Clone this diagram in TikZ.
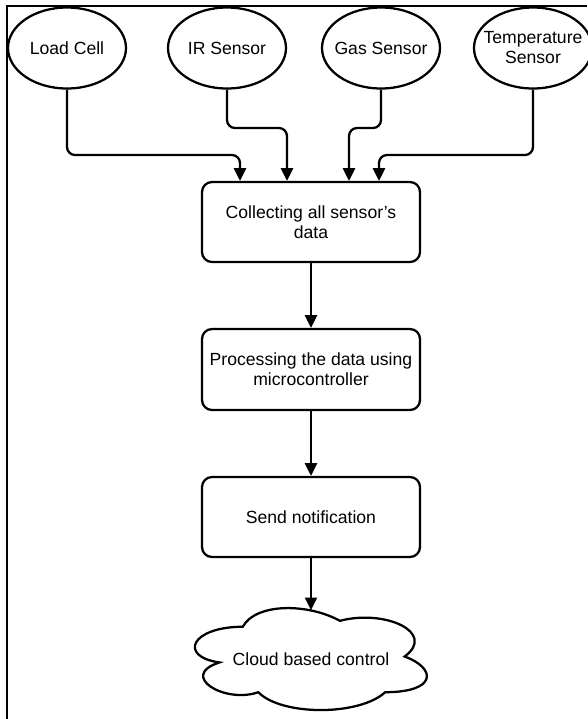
\documentclass[tikz,border=0pt]{standalone}
\usepackage{fontspec}
\setmainfont{Liberation Sans}
\usetikzlibrary{arrows.meta,shapes.geometric}
\begin{document}
\begin{tikzpicture}[x=0.75pt,y=-0.75pt,
  every node/.style={font=\fontsize{13.2}{15}\selectfont},
  sensor/.style={draw,ellipse,line width=1.7pt,minimum width=88.5pt,minimum height=60.75pt,inner sep=0pt},
  stepbox/.style={draw,rounded corners=7.5pt,line width=1.7pt,minimum width=163.5pt,minimum height=60pt,align=center,inner sep=2pt},
  arr/.style={line width=1.7pt,-{Triangle[width=9pt,length=9.5pt]},rounded corners=6pt},
]
\useasboundingbox (0,0) rectangle (587,719);
\draw[line width=1.8pt] (7,719) -- (7,6) -- (587,6);

% sensors
\node[sensor,label={[align=center]center:Load Cell}] (load) at (67,48) {};
\node[sensor,label={[align=center]center:IR Sensor}] (ir) at (227,48) {};
\node[sensor,label={[align=center]center:Gas Sensor}] (gas) at (381,48) {};
\node[sensor,label={[align=center]center:Temperature\\Sensor}] (temp) at (533,48) {};

% process boxes
\node[stepbox] (coll) at (311,222) {Collecting all sensor's\\data};
\node[stepbox,minimum height=60.75pt] (proc) at (311,369.5) {Processing the data using\\microcontroller};
\node[stepbox] (send) at (311,517) {Send notification};

% cloud
\node[minimum width=174pt,minimum height=72.75pt,inner sep=0pt] (cloud) at (311,659) {Cloud based control};
\draw[line width=1.7pt] (242.75,626.75)
  .. controls (190.95,626.75) and (178,656.5) .. (219.44,662.45)
  .. controls (178,675.54) and (224.62,704.1) .. (258.29,692.2)
  .. controls (281.6,716) and (359.3,716) .. (385.2,692.2)
  .. controls (437,692.2) and (437,668.4) .. (404.625,656.5)
  .. controls (437,632.7) and (385.2,608.9) .. (339.875,620.8)
  .. controls (307.5,602.95) and (255.7,602.95) .. (242.75,626.75) -- cycle;

% helper coordinates
\coordinate (x1) at (240,0);
\coordinate (x2) at (287,0);
\coordinate (x3) at (349,0);
\coordinate (x4) at (379,0);
\coordinate (ya) at (0,155);
\coordinate (yb) at (0,128);

% connectors
\draw[arr] (load.south) -- (load.south |- ya) -- (x1 |- ya) -- (x1 |- coll.north);
\draw[arr] (ir.south) -- (ir.south |- yb) -- (x2 |- yb) -- (x2 |- coll.north);
\draw[arr] (gas.south) -- (gas.south |- yb) -- (x3 |- yb) -- (x3 |- coll.north);
\draw[arr] (temp.south) -- (temp.south |- ya) -- (x4 |- ya) -- (x4 |- coll.north);
\draw[arr] (coll.south) -- (proc.north);
\draw[arr] (proc.south) -- (send.north);
\draw[arr] (send.south) -- (cloud.north);
\end{tikzpicture}
\end{document}
